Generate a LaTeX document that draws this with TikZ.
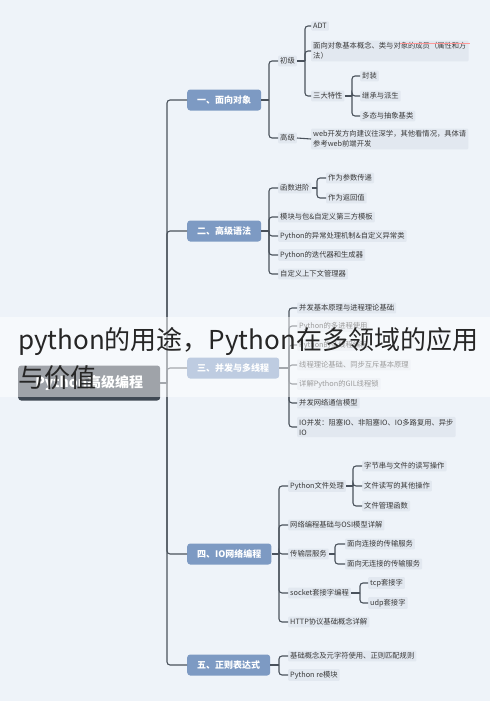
\documentclass[tikz,border=0pt]{standalone}
\usepackage{fontspec}
\setmainfont{Noto Sans CJK SC}
\definecolor{bg}{HTML}{EEF3F9}
\definecolor{mainblue}{HTML}{7D9AC3}
\definecolor{rootc}{HTML}{3F4853}
\definecolor{linec}{HTML}{4A525C}
\definecolor{itembg}{HTML}{E2E8F0}
\definecolor{txt}{HTML}{3A3A3A}
\definecolor{titlec}{HTML}{262626}
\begin{document}
\begin{tikzpicture}[x=1pt,y=-1pt,
 conn/.style={draw=linec, line width=1.1pt, rounded corners=3pt},
 sect/.style={fill=mainblue, rounded corners=3pt, text=white, font=\bfseries\fontsize{9}{11}\selectfont, minimum height=21pt, inner xsep=10pt, anchor=west},
 item/.style={fill=itembg, rounded corners=1pt, text=txt, font=\fontsize{7.3}{10}\selectfont, inner xsep=2pt, inner ysep=2pt, anchor=west, align=left},
 rootbox/.style={fill=rootc, rounded corners=3pt, text=white, font=\bfseries\fontsize{14}{16}\selectfont, minimum width=142pt, minimum height=35pt, anchor=west},
 ttl/.style={anchor=base west, font=\fontsize{26}{30}\selectfont, text=titlec, inner sep=0pt}]
\fill[bg] (0,0) rectangle (490,701);
\useasboundingbox (0,0) rectangle (490,701);

% root and sections
\node[rootbox] (root) at (18,383) {Python高级编程};
\node[sect] (b1) at (187,100) {一、面向对象};
\node[sect] (b2) at (187,231) {二、高级语法};
\node[sect] (b3) at (187,368) {三、并发与多线程};
\node[sect] (b4) at (187,554) {四、IO网络编程};
\node[sect] (b5) at (187,665) {五、正则表达式};
\coordinate (t) at (167,383);
\draw[conn] (root.east) -- (t);
\foreach \b in {b1,b2,b3,b4,b5} \draw[conn] (t) |- (\b.west);

% section 1
\node[item] (c11) at (278,61) {初级};
\node[item] (c12) at (278,138) {高级};
\node[item] (c111) at (311,26) {ADT};
\node[item] (c112) at (311,51) {面向对象基本概念、类与对象的成员（属性和方\\法）};
\node[item] (c113) at (311,96) {三大特性};
\node[item] (c1131) at (360,76) {封装};
\node[item] (c1132) at (360,96) {继承与派生};
\node[item] (c1133) at (360,116) {多态与抽象基类};
\node[item] (c121) at (311,139) {web开发方向建议往深学，其他看情况，具体请\\参考web前端开发};
\draw[draw=pink!80!red, line width=0.6pt] (400,43) -- (470,43);
\coordinate (j1) at (269,100);
\draw[conn] (b1.east) -- (j1);
\foreach \c in {c11,c12} \draw[conn] (j1) |- (\c.west);
\coordinate (j11) at (305,61);
\draw[conn] (c11.east) -- (j11);
\foreach \c in {c111,c112,c113} \draw[conn] (j11) |- (\c.west);
\coordinate (j113) at (352,96);
\draw[conn] (c113.east) -- (j113);
\foreach \c in {c1131,c1132,c1133} \draw[conn] (j113) |- (\c.west);
\draw[conn] (c12.east) -- (c121.west);

% section 2
\node[item] (c21) at (278,188) {函数进阶};
\node[item] (c211) at (326,178) {作为参数传递};
\node[item] (c212) at (326,198) {作为返回值};
\node[item] (c22) at (278,217) {模块与包\&自定义第三方模板};
\node[item] (c23) at (278,236) {Python的异常处理机制\&自定义异常类};
\node[item] (c24) at (278,255) {Python的迭代器和生成器};
\node[item] (c25) at (278,274) {自定义上下文管理器};
\coordinate (j2) at (269,231);
\draw[conn] (b2.east) -- (j2);
\foreach \c in {c21,c22,c23,c24,c25} \draw[conn] (j2) |- (\c.west);
\coordinate (j21) at (317,188);
\draw[conn] (c21.east) -- (j21);
\foreach \c in {c211,c212} \draw[conn] (j21) |- (\c.west);

% section 3
\node[item] (c31) at (297,308) {并发基本原理与进程理论基础};
\node[item] (c32) at (297,326) {Python的多进程使用};
\node[item] (c33) at (297,345) {Python的多线程编程};
\node[item] (c34) at (297,365) {线程理论基础、同步互斥基本原理};
\node[item] (c35) at (297,384) {详解Python的GIL线程锁};
\node[item] (c36) at (297,403) {并发网络通信模型};
\node[item] (c37) at (297,427) {IO并发：阻塞IO、非阻塞IO、IO多路复用、异步\\IO};
\coordinate (j3) at (289,368);
\draw[conn] (b3.east) -- (j3);
\foreach \c in {c31,c32,c33,c34,c35,c36,c37} \draw[conn] (j3) |- (\c.west);

% section 4
\node[item] (c41) at (288,486) {Python文件处理};
\node[item] (c411) at (362,466) {字节串与文件的读写操作};
\node[item] (c412) at (362,486) {文件读写的其他操作};
\node[item] (c413) at (362,506) {文件管理函数};
\node[item] (c42) at (288,525) {网络编程基础与OSI模型详解};
\node[item] (c43) at (288,554) {传输层服务};
\node[item] (c431) at (345,544) {面向连接的传输服务};
\node[item] (c432) at (345,564) {面向无连接的传输服务};
\node[item] (c44) at (288,593) {socket套接字编程};
\node[item] (c441) at (368,583) {tcp套接字};
\node[item] (c442) at (368,603) {udp套接字};
\node[item] (c45) at (288,622) {HTTP协议基础概念详解};
\coordinate (j4) at (279,554);
\draw[conn] (b4.east) -- (j4);
\foreach \c in {c41,c42,c43,c44,c45} \draw[conn] (j4) |- (\c.west);
\coordinate (j41) at (353,486);
\draw[conn] (c41.east) -- (j41);
\foreach \c in {c411,c412,c413} \draw[conn] (j41) |- (\c.west);
\coordinate (j43) at (335,554);
\draw[conn] (c43.east) -- (j43);
\foreach \c in {c431,c432} \draw[conn] (j43) |- (\c.west);
\coordinate (j44) at (360,593);
\draw[conn] (c44.east) -- (j44);
\foreach \c in {c441,c442} \draw[conn] (j44) |- (\c.west);

% section 5
\node[item] (c51) at (288,656) {基础概念及元字符使用、正则匹配规则};
\node[item] (c52) at (288,675) {Python re模块};
\coordinate (j5) at (279,665);
\draw[conn] (b5.east) -- (j5);
\foreach \c in {c51,c52} \draw[conn] (j5) |- (\c.west);

% overlay band and title
\fill[white, opacity=0.5] (0,317) rectangle (490,397);
\node[ttl] (title1) at (18,349) {python的用途，Python在多领域的应用};
\node[ttl] (title2) at (18,387) {与价值};
\end{tikzpicture}
\end{document}
